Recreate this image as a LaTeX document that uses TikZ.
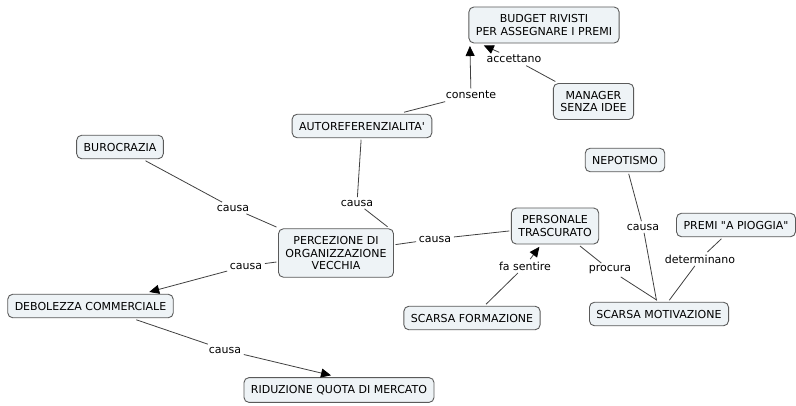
\documentclass[tikz,border=0pt]{standalone}
\usepackage{fontspec}
\newfontfamily\cmapfont{DejaVu Sans}
\usetikzlibrary{arrows.meta}
\definecolor{concfill}{HTML}{EEF3F6}
\definecolor{concline}{HTML}{5A5A5A}
\definecolor{linkline}{HTML}{404040}

\begin{document}
\begin{tikzpicture}[x=1bp,y=-1bp,
    every node/.style={font=\cmapfont\fontsize{11bp}{12.5bp}\selectfont},
    concept/.style={draw=concline,fill=concfill,rounded corners=5bp,line width=0.9bp,
      inner xsep=7bp,inner ysep=7.6bp,align=center,outer sep=2bp},
    link/.style={inner sep=2.5bp},
    conn/.style={linkline,line width=0.8bp},
    tip/.style={conn,-{Triangle[length=10bp,width=9bp,color=black]},shorten >=1bp}]
    \useasboundingbox (0,0) rectangle (796,405);
    % Concepts
    \node[concept] (budget)  at (544,25)    {BUDGET RIVISTI\\PER ASSEGNARE I PREMI};
    \node[concept] (manager) at (593.5,101.5) {MANAGER\\SENZA IDEE};
    \node[concept] (autoref) at (362,126)   {AUTOREFERENZIALITA'};
    \node[concept] (buro)    at (120,147)   {BUROCRAZIA};
    \node[concept] (perc)    at (336,253)   {PERCEZIONE DI\\ORGANIZZAZIONE\\VECCHIA};
    \node[concept] (pers)    at (555,226)   {PERSONALE\\TRASCURATO};
    \node[concept] (nepo)    at (625,160)   {NEPOTISMO};
    \node[concept] (premi)   at (736,225)   {PREMI "A PIOGGIA"};
    \node[concept] (form)    at (472,318)   {SCARSA FORMAZIONE};
    \node[concept] (motiv)   at (659,314)   {SCARSA MOTIVAZIONE};
    \node[concept] (deb)     at (90.5,306)  {DEBOLEZZA COMMERCIALE};
    \node[concept] (rid)     at (339,390)   {RIDUZIONE QUOTA DI MERCATO};
    % Linking phrases
    \node[link] (lconsente)  at (471,95)  {consente};
    \node[link] (laccettano) at (514,59)  {accettano};
    \node[link] (lcausaA)    at (233,208) {causa};
    \node[link] (lcausaB)    at (357,203) {causa};
    \node[link] (lcausaC)    at (246,266) {causa};
    \node[link] (lcausaD)    at (225,350) {causa};
    \node[link] (lcausaE)    at (435,239) {causa};
    \node[link] (lfasentire) at (525,266) {fa sentire};
    \node[link] (lprocura)   at (610,270) {procura};
    \node[link] (lcausaF)    at (643,227) {causa};
    \node[link] (ldeterm)    at (700,259) {determinano};
    % Plain links (source -- phrase -- target)
    \foreach \a/\l/\b in {buro/lcausaA/perc, perc/lcausaE/pers,
        nepo/lcausaF/motiv, premi/ldeterm/motiv} {
      \draw[conn] (\a) -- (\l);
      \draw[conn] (\l) -- (\b);
    }
    \draw[conn] (autoref) -- (lcausaB);
    \draw[conn] (lcausaB) -- ([xshift=-8bp]perc.north east);
    \draw[conn] (pers) -- (lprocura);
    \draw[conn] (lprocura) -- ([xshift=-2bp]motiv.north);
    % Links with arrow heads
    \draw[conn] ([xshift=42bp]autoref.north) -- (lconsente);
    \draw[tip] (lconsente) -- ([xshift=3bp]budget.south west);
    \draw[conn] ([xshift=4bp]manager.north west) -- (laccettano);
    \draw[tip] (laccettano) -- ([xshift=16bp]budget.south west);
    \draw[conn] ([yshift=-9bp]perc.west) -- (lcausaC);
    \draw[tip] (lcausaC) -- ([xshift=-27bp]deb.north east);
    \draw[conn] ([xshift=-39bp]deb.south east) -- (lcausaD);
    \draw[tip] (lcausaD) -- ([xshift=-7bp]rid.north);
    \draw[conn] (form) -- (lfasentire);
    \draw[tip] (lfasentire) -- (pers);
  \end{tikzpicture}
\end{document}
